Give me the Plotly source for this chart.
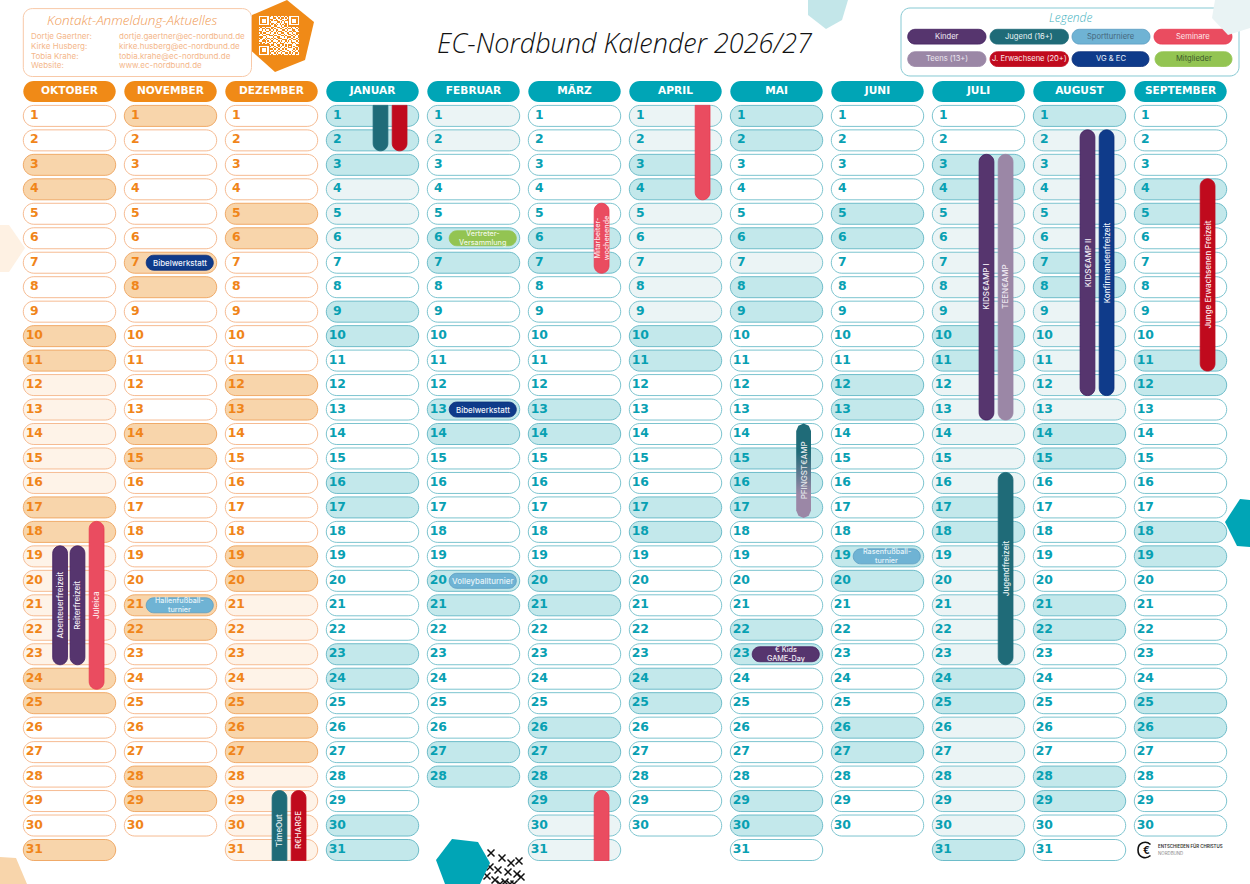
import plotly.graph_objects as go

# Kalenderdaten
monate = ["OKTOBER", "NOVEMBER", "DEZEMBER", "JANUAR", "FEBRUAR", "MÄRZ",
          "APRIL", "MAI", "JUNI", "JULI", "AUGUST", "SEPTEMBER"]
tage_im_monat = [31, 30, 31, 31, 28, 31, 30, 31, 30, 31, 31, 30]
monat_farbe = ["orange", "orange", "orange"] + ["teal"] * 9

# kräftig markierte Tage (Wochenenden, Feiertage)
tage_stark = [
    [3, 4, 10, 11, 17, 18, 24, 25, 31],
    [1, 7, 8, 14, 15, 21, 22, 28, 29],
    [5, 6, 12, 13, 19, 20, 25, 26, 27],
    [1, 2, 3, 9, 10, 16, 17, 23, 24, 30, 31],
    [6, 7, 13, 14, 20, 21, 27, 28],
    [6, 7, 13, 14, 20, 21, 26, 27, 28, 29],
    [3, 4, 10, 11, 17, 18, 24, 25],
    [1, 2, 6, 8, 9, 15, 16, 17, 22, 23, 29, 30],
    [5, 6, 12, 13, 19, 20, 26, 27],
    [3, 4, 10, 11, 17, 18, 24, 25, 31],
    [1, 7, 8, 14, 15, 21, 22, 28, 29],
    [4, 5, 11, 12, 18, 19, 25, 26],
]
# blass markierte Tage (Ferien)
tage_hell = [
    [12, 13, 14, 15, 16, 19, 20, 21, 22, 23],
    [],
    [21, 22, 23, 24, 28, 29, 30, 31],
    [4, 5, 6],
    [1, 2],
    [30, 31],
    [1, 2, 5, 6, 7, 8, 9],
    [7],
    [],
    [5, 6, 7, 8, 9, 12, 13, 14, 15, 16, 19, 20, 21, 22, 23, 26, 27, 28, 29, 30],
    [2, 3, 4, 5, 6, 9, 10, 11, 12, 13],
    [],
]

# senkrechte Balken: Monat (Index), von, bis, Spur, Kategorie, Text, offenes Ende
balken_monat = [0, 0, 0, 2, 2, 3, 3, 5, 5, 6, 7, 9, 9, 9, 10, 10, 11]
balken_von = [19, 19, 18, 29, 29, 1, 1, 5, 29, 1, 14, 3, 3, 16, 2, 2, 4]
balken_bis = [23, 23, 24, 31, 31, 2, 2, 7, 31, 4, 17, 13, 13, 23, 12, 12, 11]
balken_spur = [0, 1, 2, 1, 2, 1, 2, 2, 2, 2, 2, 1, 2, 2, 1, 2, 2]
balken_kat = ["Kinder", "Kinder", "Seminare", "Jugend", "Erwachsene", "Jugend", "Erwachsene",
              "Seminare", "Seminare", "Seminare", "Pfingsten", "Kinder", "Teens", "Jugend",
              "Kinder", "VG", "Erwachsene"]
balken_text = ["Abenteuerfreizeit", "Reiterfreizeit", "Juleica", "TimeOut", "R€HARGE", "", "",
               "Mitarbeiter-<br>wochenende", "", "", "PFINGST€AMP", "KIDS€AMP I", "TEEN€AMP",
               "Jugendfreizeit", "KIDS€AMP II", "Konfirmandenfreizeit", "Junge Erwachsenen Freizeit"]
balken_offen = ["", "", "", "unten", "unten", "oben", "oben", "", "unten", "oben", "", "", "", "", "", "", ""]

# Eintages-Termine
termin_monat = [1, 1, 4, 4, 4, 7, 8]
termin_tag = [7, 21, 6, 13, 20, 23, 19]
termin_kat = ["VG", "Sport", "Mitglieder", "VG", "Sport", "Kinder", "Sport"]
termin_text = ["Bibelwerkstatt", "Hallenfußball-<br>turnier", "Vertreter-<br>Versammlung",
               "Bibelwerkstatt", "Volleyballturnier", "€ Kids<br>GAME-Day", "Rasenfußball-<br>turnier"]

# Legende
legende_kat = ["Kinder", "Jugend", "Sport", "Seminare", "Teens", "Erwachsene", "VG", "Mitglieder"]
legende_text = ["Kinder", "Jugend (16+)", "Sportturniere", "Seminare",
                "Teens (13+)", "J. Erwachsene (20+)", "VG & EC", "Mitglieder"]

kontakt_namen = ["Dortje Gaertner:", "Kirke Husberg:", "Tobia Krahe:", "Website:"]
kontakt_adressen = ["dortje.gaertner@ec-nordbund.de", "kirke.husberg@ec-nordbund.de",
                    "tobia.krahe@ec-nordbund.de", "www.ec-nordbund.de"]

qr_zeilen = [
    "11111110010110101101001111111",
    "10000010110011010010101000001",
    "10111010001101100111001011101",
    "10111010101000111010001011101",
    "10111010011110010101101011101",
    "10000010100101101100101000001",
    "11111110101010101010101111111",
    "00000000011001110100100000000",
    "10110111100110011011011011010",
    "01001000101011100110100101101",
    "11010110010100111001011100110",
    "00111001101101000110110010011",
    "10100111011010110011001101100",
    "01011000110111001101100110101",
    "11100110001001110010111001010",
    "00011011110110011101000110110",
    "10110100101011000111011001101",
    "01101011010100111000110110010",
    "11000101101111010110101011101",
    "00110110010010101101011000110",
    "10101101110101100011111101011",
    "00000000100110011010100011100",
    "11111110011011010110101010110",
    "10000010110100101101100011001",
    "10111010001011011010111110101",
    "10111010110110100111001101010",
    "10111010100101011001110110110",
    "10000010011010110110010101001",
    "11111110101101001011101011011",
]

# Farben
ORANGE = "#f08a17"
TEAL = "#00a5b6"
tag_stile = {
    "orange": {"text": "#f0851a", "rand": "#f6bb92", "rand_stark": "#f0aa68", "stark": "#f8d5ab", "hell": "#fef3e8"},
    "teal": {"text": "#08a0b2", "rand": "#7cc4cf", "rand_stark": "#6dbcc9", "stark": "#c3e8eb", "hell": "#ebf4f5"},
}
kat_farbe = {"Kinder": "#56356e", "Jugend": "#1f6b78", "Sport": "#6fb3d4", "Seminare": "#ea4c60",
             "Teens": "#9b87a6", "Erwachsene": "#c00a1d", "VG": "#0f3b8a", "Mitglieder": "#93c452"}
kat_rand = {"Kinder": "#43205f", "Jugend": "#1f6b78", "Sport": "#5a9cc2", "Seminare": "#e8394f",
            "Teens": "#9b87a6", "Erwachsene": "#c00a1d", "VG": "#0b2f7a", "Mitglieder": "#93c452"}
kat_text = {"Kinder": "#f1ecf4", "Jugend": "#e9f3f4", "Sport": "#e6f3f9", "Seminare": "#fde6e9",
            "Teens": "#eee8f1", "Erwachsene": "#fbe9ea", "VG": "#eef2fa", "Mitglieder": "#eff7e4",
            "Pfingsten": "#e2e6ea"}
legende_textfarbe = {"Sport": "#46687c", "Mitglieder": "#3d5a2c"}

SCHRIFT = "Inter"
SCHRIFT_BREIT = "DejaVu Sans"
SCHREIBSCHRIFT = "Open Sans"

# Pixelraster der Seite: eine Achseneinheit x = eine Monatsspalte, y = ein Tag
W, H = 1250, 884
SPALTE = 101.0
ZEILE = 24.47
LINKS = 23.3
ZEILE_1 = 115.9
PILLE_B = 92.4
PILLE_H = 21.0
SPUR_X = [29.4, 46.8, 65.9]
SPUR_B = 14.8


def rund_pfad(x0, x1, y0, y1, rx, ry, oben=True, unten=True):
    k = 0.45
    p = []
    if oben:
        p.append(f"M{x0:.5f},{y0 + ry:.5f}")
        p.append(f"C{x0:.5f},{y0 + ry * k:.5f} {x0 + rx * k:.5f},{y0:.5f} {x0 + rx:.5f},{y0:.5f}")
        p.append(f"L{x1 - rx:.5f},{y0:.5f}")
        p.append(f"C{x1 - rx * k:.5f},{y0:.5f} {x1:.5f},{y0 + ry * k:.5f} {x1:.5f},{y0 + ry:.5f}")
    else:
        p.append(f"M{x0:.5f},{y0:.5f}")
        p.append(f"L{x1:.5f},{y0:.5f}")
    if unten:
        p.append(f"L{x1:.5f},{y1 - ry:.5f}")
        p.append(f"C{x1:.5f},{y1 - ry * k:.5f} {x1 - rx * k:.5f},{y1:.5f} {x1 - rx:.5f},{y1:.5f}")
        p.append(f"L{x0 + rx:.5f},{y1:.5f}")
        p.append(f"C{x0 + rx * k:.5f},{y1:.5f} {x0:.5f},{y1 - ry * k:.5f} {x0:.5f},{y1 - ry:.5f}")
    else:
        p.append(f"L{x1:.5f},{y1:.5f}")
        p.append(f"L{x0:.5f},{y1:.5f}")
    p.append("Z")
    return "".join(p)


def px(x):
    return x / W


def py(y):
    return 1 - y / H


def papier_pille(x0, x1, y0, y1, r, fill, rand, breite=1.0, layer="below"):
    # y laeuft im Papiersystem nach oben, also negatives ry
    return dict(type="path", xref="paper", yref="paper", layer=layer, fillcolor=fill,
                line=dict(color=rand, width=breite),
                path=rund_pfad(px(x0), px(x1), py(y0), py(y1), r / W, -r / H))


def polygon(punkte, fill, layer="below"):
    pfad = "M" + "L".join(f"{px(a):.5f},{py(b):.5f}" for a, b in punkte) + "Z"
    return dict(type="path", xref="paper", yref="paper", layer=layer, fillcolor=fill,
                line=dict(width=0), path=pfad)


def papier_text(text, x, y, groesse, farbe, xanchor="left", familie=SCHRIFT, **font_extra):
    return dict(text=text, xref="paper", yref="paper", x=px(x), y=py(y), xanchor=xanchor,
                yanchor="middle", showarrow=False, borderpad=0,
                font=dict(family=familie, size=groesse, color=farbe, **font_extra))


def daten_text(text, x, y, farbe, winkel=0, groesse=7.9):
    return dict(text=text, x=x, y=y, xref="x", yref="y", textangle=winkel, showarrow=False,
                xanchor="center", yanchor="middle", borderpad=0,
                font=dict(family=SCHRIFT, size=groesse, weight=500, color=farbe))


shapes = []
annotations = []

# Deko im Hintergrund
shapes.append(polygon([(808, 0), (808, 15), (826, 29), (842, 20), (848, 0)], "#c3e6e9"))
shapes.append(polygon([(0, 225), (9, 225), (25, 248), (9, 272), (0, 272)], "#fef1e3"))
shapes.append(polygon([(0, 857), (16, 858), (27, 884), (0, 884)], "#f8d5ab"))
shapes.append(polygon([(1225, 522), (1240, 499), (1250, 500), (1250, 547), (1237, 546)], TEAL))
shapes.append(polygon([(436, 860), (452, 839), (478, 842), (490, 863), (480, 884), (445, 884)], TEAL, layer="above"))
shapes.append(polygon([(287, 0), (314, 22), (305, 60), (275, 72), (247, 47), (252, 15)], ORANGE))
shapes.append(polygon([(1215, 0), (1212, 18), (1228, 35), (1250, 28), (1250, 0)], "#e9f3f4", layer="above"))

# Kontaktbox
shapes.append(papier_pille(23.3, 251.5, 8.6, 76.5, 9, "white", "#f8c9a8"))
annotations.append(papier_text("Kontakt-Anmeldung-Aktuelles", 132, 20, 13.5, "#f09a55", "center",
                               SCHREIBSCHRIFT, style="italic", weight=300))
for i, (name, adresse) in enumerate(zip(kontakt_namen, kontakt_adressen)):
    y = 36.3 + i * 9.7
    annotations.append(papier_text(name, 30, y, 8.0, "#f4b78b"))
    annotations.append(papier_text(adresse, 118, y, 8.0, "#f4b78b"))

# Legendenbox
shapes.append(papier_pille(901, 1239, 8, 76, 9, "white", "#86c9d3"))
annotations.append(papier_text("Legende", 1070, 17, 12, "#3fb2c0", "center", SCHREIBSCHRIFT,
                               style="italic", weight=300))
legende_x = [(907.7, 986), (990, 1068.5), (1072, 1150), (1154, 1232),
             (907.7, 986), (990, 1068.5), (1072, 1149), (1155, 1232)]
for i, (kat, text) in enumerate(zip(legende_kat, legende_text)):
    x0, x1 = legende_x[i]
    y0 = 29.3 if i < 4 else 51.7
    shapes.append(papier_pille(x0, x1, y0, y0 + 14.8, 7.4, kat_farbe[kat], kat_rand[kat], 0.8))
    annotations.append(papier_text(text, (x0 + x1) / 2, y0 + 7.2, 7.6,
                                   legende_textfarbe.get(kat, kat_text[kat]), "center"))

# Logo unten rechts
shapes.append(dict(type="path", xref="paper", yref="paper", layer="below", line=dict(color="#111111", width=1.6),
                   path=(f"M{px(1150.5):.5f},{py(844.5):.5f}"
                         f"C{px(1146):.5f},{py(840.5):.5f} {px(1138):.5f},{py(842):.5f} {px(1138):.5f},{py(850):.5f}"
                         f"C{px(1138):.5f},{py(858):.5f} {px(1146):.5f},{py(859.5):.5f} {px(1150.5):.5f},{py(855.5):.5f}")))
annotations.append(papier_text("€", 1146, 850, 10, "#111111", "center", weight=700))
annotations.append(papier_text("ENTSCHIEDEN FÜR CHRISTUS", 1157, 845.7, 4.4, "#333333", weight=600))
annotations.append(papier_text("NORDBUND", 1157, 853.7, 4.4, "#8a8a8a"))

annotations.append(papier_text("EC-Nordbund Kalender 2026/27", 625, 42, 27, "#111111", "center",
                               SCHREIBSCHRIFT, style="italic", weight=300))

# Monatskoepfe und Tagespillen
rx = (PILLE_H / 2) / SPALTE
ry = (PILLE_H / 2) / ZEILE
breite = PILLE_B / SPALTE
for m, (anzahl, farbe) in enumerate(zip(tage_im_monat, monat_farbe)):
    stil = tag_stile[farbe]
    shapes.append(dict(type="path", layer="below", fillcolor=ORANGE if farbe == "orange" else TEAL,
                       line=dict(width=0), xref="x", yref="y",
                       path=rund_pfad(m, m + breite, -ry, ry, rx, ry)))
    for tag in range(1, anzahl + 1):
        if tag in tage_stark[m]:
            fill, rand = stil["stark"], stil["rand_stark"]
        elif tag in tage_hell[m]:
            fill, rand = stil["hell"], stil["rand"]
        else:
            fill, rand = "white", stil["rand"]
        shapes.append(dict(type="path", layer="below", fillcolor=fill, line=dict(color=rand, width=1),
                           xref="x", yref="y",
                           path=rund_pfad(m, m + breite, tag - ry, tag + ry, rx, ry)))

# Tageszahlen
fig = go.Figure()
for farbe in ["orange", "teal"]:
    xs, ys, texte = [], [], []
    for m, anzahl in enumerate(tage_im_monat):
        if monat_farbe[m] != farbe:
            continue
        for tag in range(1, anzahl + 1):
            xs.append(m + 11 / SPALTE)
            ys.append(tag)
            texte.append(str(tag))
    fig.add_trace(go.Scatter(x=xs, y=ys, text=texte, mode="text", hoverinfo="skip", textposition="middle center",
                             textfont=dict(family=SCHRIFT_BREIT, size=12.4, weight=700, color=tag_stile[farbe]["text"])))

fig.add_trace(go.Scatter(x=[m + breite / 2 for m in range(12)], y=[0] * 12, text=monate, mode="text",
                         hoverinfo="skip", textposition="middle center",
                         textfont=dict(family=SCHRIFT_BREIT, size=10.6, weight=700, color="white")))

# senkrechte Balken
for m, von, bis, spur, kat, text, offen in zip(balken_monat, balken_von, balken_bis, balken_spur,
                                               balken_kat, balken_text, balken_offen):
    x0 = m + SPUR_X[spur] / SPALTE
    x1 = x0 + SPUR_B / SPALTE
    y0, y1 = von - ry, bis + ry
    brx, bry = (SPUR_B / 2) / SPALTE, (SPUR_B / 2) / ZEILE
    pfad = rund_pfad(x0, x1, y0, y1, brx, bry, offen != "oben", offen != "unten")
    if kat == "Pfingsten":
        # Verlauf Jugend -> Teens, geht nur ueber eine Flaeche im Trace
        fx = [x0, x0, x0 + brx * 0.3, x0 + brx, x1 - brx * 0.3, x1, x1, x1 - brx * 0.3, x0 + brx, x0 + brx * 0.3, x0]
        fy = [y1 - bry, y0 + bry, y0 + bry * 0.3, y0, y0 + bry * 0.3, y0 + bry, y1 - bry, y1 - bry * 0.3, y1, y1 - bry * 0.3, y1 - bry]
        fig.add_trace(go.Scatter(x=fx, y=fy, mode="none", fill="toself", hoverinfo="skip",
                                 fillgradient=dict(type="vertical", colorscale=[[0, kat_farbe["Teens"]], [0.25, kat_farbe["Teens"]], [0.7, kat_farbe["Jugend"]], [1, kat_farbe["Jugend"]]])))
    else:
        shapes.append(dict(type="path", layer="above", xref="x", yref="y", fillcolor=kat_farbe[kat],
                           line=dict(color=kat_rand[kat], width=0.8), path=pfad))
    if text:
        mitte = (von + bis) / 2
        if offen == "unten":
            mitte += 0.2
        xm = (x0 + x1) / 2
        zeilen = text.split("<br>")
        if len(zeilen) == 2:
            # zweizeilig: Zeilenabstand enger als <br> in plotly
            annotations.append(daten_text(zeilen[0], xm - 4.4 / SPALTE, mitte, kat_text[kat], -90, 7.2))
            annotations.append(daten_text(zeilen[1], xm + 4.4 / SPALTE, mitte, kat_text[kat], -90, 7.2))
        else:
            annotations.append(daten_text(text, xm, mitte, kat_text[kat], -90, 8.0))

# Eintages-Termine
for m, tag, kat, text in zip(termin_monat, termin_tag, termin_kat, termin_text):
    x0, x1 = m + 21.9 / SPALTE, m + 89 / SPALTE
    hoehe = 7.5 / ZEILE
    shapes.append(dict(type="path", layer="above", xref="x", yref="y", fillcolor=kat_farbe[kat],
                       line=dict(color=kat_rand[kat], width=0.8),
                       path=rund_pfad(x0, x1, tag - hoehe, tag + hoehe, 7.5 / SPALTE, hoehe)))
    xm = (x0 + x1) / 2
    zeilen = text.split("<br>")
    if len(zeilen) == 2:
        annotations.append(daten_text(zeilen[0], xm, tag - 4.4 / ZEILE, kat_text[kat], 0, 7.2))
        annotations.append(daten_text(zeilen[1], xm, tag + 4.4 / ZEILE, kat_text[kat], 0, 7.2))
    else:
        annotations.append(daten_text(text, xm, tag, kat_text[kat]))

# QR-Code
qr_z = [[int(c) for c in zeile] for zeile in qr_zeilen]
fig.add_trace(go.Heatmap(z=qr_z, x0=(259.7 - LINKS) / SPALTE, dx=1.38 / SPALTE,
                         y0=(16.7 - ZEILE_1) / ZEILE + 1, dy=1.345 / ZEILE,
                         colorscale=[[0, "rgba(0,0,0,0)"], [1, "white"]], showscale=False, hoverinfo="skip",
                         zmin=0, zmax=1))

# Kreuzmuster unten
kreuz_x = [491, 502, 511, 519, 498, 508, 517, 487, 495, 505, 514, 521, 490, 500, 510]
kreuz_y = [853, 858, 863, 861, 870, 872, 874, 876, 880, 882, 884, 877, 867, 884, 884]
fig.add_trace(go.Scatter(x=[(a - LINKS) / SPALTE for a in kreuz_x], y=[(b - ZEILE_1) / ZEILE + 1 for b in kreuz_y],
                         mode="markers", hoverinfo="skip",
                         marker=dict(symbol="x-thin", size=7, line=dict(color="#111111", width=1.5))))

fig.update_layout(
    width=W, height=H, margin=dict(l=0, r=0, t=0, b=0), showlegend=False, hovermode=False,
    paper_bgcolor="white", plot_bgcolor="white", shapes=shapes, annotations=annotations,
    xaxis=dict(range=[-LINKS / SPALTE, (W - LINKS) / SPALTE], visible=False, fixedrange=True),
    yaxis=dict(range=[(H - ZEILE_1) / ZEILE + 1, -ZEILE_1 / ZEILE + 1], visible=False, fixedrange=True),
)

fig.write_html("out.html", config={"displayModeBar": False},
               post_script="document.body.style.margin='0';document.documentElement.style.overflow='hidden';")
